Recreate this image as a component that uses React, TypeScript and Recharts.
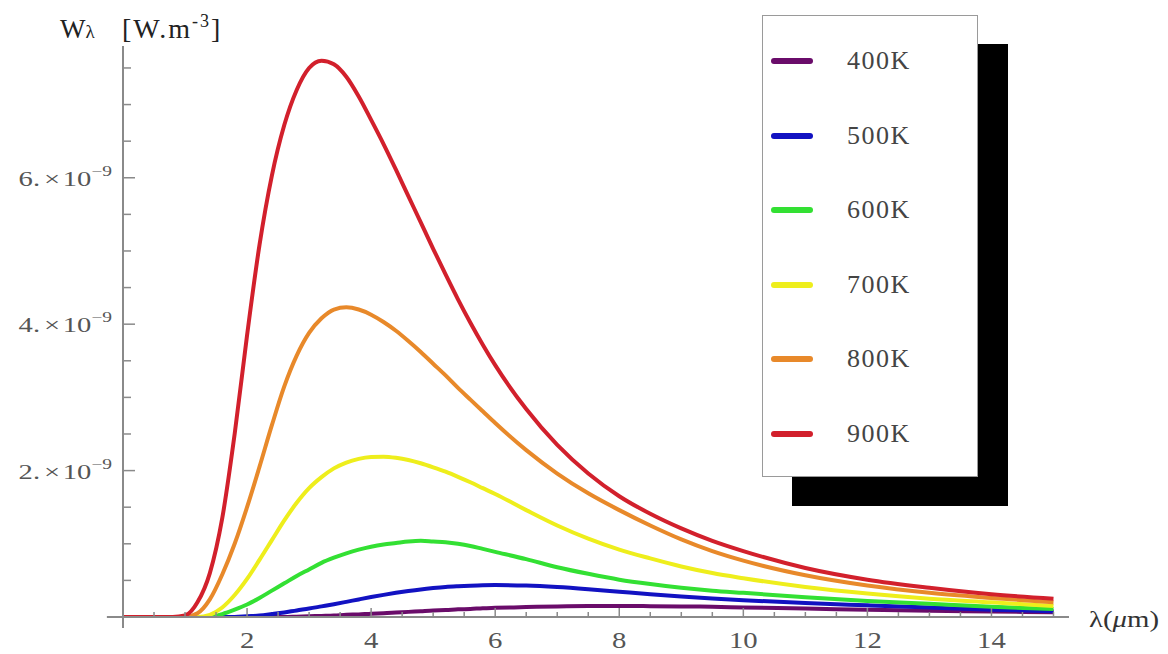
import React from 'react';
import { LineChart, Line, XAxis, YAxis, ReferenceLine } from 'recharts';

// wavelength in micrometres
const lambda = [0, 0.5, 0.8, 1.0, 1.2, 1.4, 1.6, 1.8, 2.0, 2.2, 2.4, 2.6, 2.8, 3.0, 3.2, 3.4, 3.6, 3.8, 4.0, 4.2, 4.4, 4.6, 4.8, 5.0, 5.2, 5.4, 5.6, 5.8, 6.0, 6.5, 7, 7.5, 8, 8.5, 9, 9.5, 10, 11, 12, 13, 14, 15];

// spectral emittance, in units of 1e-9
const w400 = [0, 0, 0, 0, 0, 0, 0, 0, 0, 0, 0, 0, 0.005, 0.01, 0.015, 0.02, 0.03, 0.035, 0.045, 0.05, 0.06, 0.07, 0.08, 0.09, 0.095, 0.105, 0.11, 0.12, 0.125, 0.135, 0.145, 0.15, 0.15, 0.148, 0.145, 0.14, 0.13, 0.115, 0.1, 0.085, 0.075, 0.065];
const w500 = [0, 0, 0, 0, 0, 0, 0, 0, 0.01, 0.02, 0.04, 0.062, 0.09, 0.115, 0.145, 0.175, 0.207, 0.24, 0.272, 0.302, 0.33, 0.355, 0.377, 0.395, 0.41, 0.42, 0.428, 0.434, 0.436, 0.43, 0.41, 0.38, 0.345, 0.31, 0.28, 0.253, 0.23, 0.19, 0.16, 0.13, 0.1, 0.08];
const w600 = [0, 0, 0, 0, 0, 0, 0.04, 0.1, 0.17, 0.26, 0.36, 0.46, 0.56, 0.65, 0.74, 0.81, 0.87, 0.92, 0.96, 0.99, 1.01, 1.03, 1.04, 1.03, 1.02, 1.0, 0.97, 0.93, 0.89, 0.79, 0.68, 0.59, 0.51, 0.45, 0.4, 0.36, 0.33, 0.27, 0.22, 0.18, 0.14, 0.11];
const w700 = [0, 0, 0, 0, 0, 0.03, 0.13, 0.3, 0.52, 0.78, 1.05, 1.32, 1.56, 1.76, 1.91, 2.03, 2.11, 2.16, 2.185, 2.19, 2.175, 2.145, 2.1, 2.045, 1.985, 1.915, 1.84, 1.76, 1.68, 1.46, 1.25, 1.07, 0.92, 0.8, 0.69, 0.6, 0.53, 0.41, 0.32, 0.25, 0.2, 0.15];
const w800 = [0, 0, 0, 0, 0.05, 0.24, 0.58, 1.0, 1.5, 2.05, 2.62, 3.15, 3.57, 3.88, 4.08, 4.2, 4.23, 4.2, 4.13, 4.03, 3.91, 3.77, 3.62, 3.46, 3.3, 3.13, 2.97, 2.81, 2.65, 2.28, 1.96, 1.69, 1.46, 1.25, 1.06, 0.9, 0.77, 0.57, 0.43, 0.33, 0.26, 0.2];
const w900 = [0, 0, 0, 0.02, 0.2, 0.6, 1.35, 2.5, 3.85, 5.08, 6.03, 6.72, 7.2, 7.5, 7.6, 7.55, 7.38, 7.11, 6.79, 6.46, 6.11, 5.75, 5.39, 5.03, 4.68, 4.34, 4.02, 3.72, 3.44, 2.84, 2.35, 1.96, 1.65, 1.41, 1.21, 1.04, 0.9, 0.67, 0.51, 0.4, 0.31, 0.25];

const xTicks = [0.5, 1, 1.5, 2, 2.5, 3, 3.5, 4, 4.5, 5, 5.5, 6, 6.5, 7, 7.5, 8, 8.5, 9, 9.5, 10, 10.5, 11, 11.5, 12, 12.5, 13, 13.5, 14, 14.5, 15];
const yTicks = [0.5, 1, 1.5, 2, 2.5, 3, 3.5, 4, 4.5, 5, 5.5, 6, 6.5, 7, 7.5];
const xLabels = [2, 4, 6, 8, 10, 12, 14];
const yLabels = [2, 4, 6];

const series = [
  { key: 'w400', name: '400K', color: '#6a0c6a', values: w400 },
  { key: 'w500', name: '500K', color: '#1212c2', values: w500 },
  { key: 'w600', name: '600K', color: '#33e033', values: w600 },
  { key: 'w700', name: '700K', color: '#eeee1c', values: w700 },
  { key: 'w800', name: '800K', color: '#e8892a', values: w800 },
  { key: 'w900', name: '900K', color: '#d2202c', values: w900 },
];

const data = lambda.map((x, i) => {
  const row: any = { x };
  series.forEach((s) => (row[s.key] = s.values[i]));
  return row;
});

const FONT = '"Liberation Serif", "Times New Roman", serif';
const AXIS = '#8a8a8a';

const XTick = (props: any) => {
  const { x, y, payload } = props;
  const v = payload.value;
  const major = xLabels.includes(v);
  return (
    <g>
      <line x1={x} x2={x} y1={y} y2={y - (major ? 9 : 5)} stroke={AXIS} strokeWidth={1.5} />
      {major && (
        <g transform={`translate(${x},${y + 31}) scale(1.25,1)`}>
          <text x={0} y={0} textAnchor="middle" fontSize={23} fill="#555" fontFamily={FONT}>
            {v}
          </text>
        </g>
      )}
    </g>
  );
};

const YTick = (props: any) => {
  const { x, y, payload } = props;
  const v = payload.value;
  const major = yLabels.includes(v);
  return (
    <g>
      <line x1={x} x2={x + (major ? 12 : 8)} y1={y} y2={y} stroke={AXIS} strokeWidth={1.5} />
      {major && (
        <g transform={`translate(${x - 11},${y + 8}) scale(1.3,1)`}>
          <text x={0} y={0} textAnchor="end" fontSize={22} fill="#555" fontFamily={FONT}>
            {`${v}.`}
            <tspan dx={3}>×</tspan>
            <tspan dx={2}>10</tspan>
            <tspan dy={-10} fontSize={15}>−9</tspan>
          </text>
        </g>
      )}
    </g>
  );
};

export default function App() {
  return (
    <div style={{ position: 'absolute', left: 0, top: 0, width: 1168, height: 654, background: '#fff' }}>
      <LineChart
        width={1168}
        height={654}
        data={data}
        margin={{ top: 46, right: 99, left: 63, bottom: 7 }}
      >
        <XAxis
          type="number"
          dataKey="x"
          domain={[0, 15.25]}
          ticks={xTicks}
          tick={<XTick />}
          tickLine={false}
          tickSize={0}
          tickMargin={0}
          interval={0}
          height={30}
          axisLine={{ stroke: AXIS, strokeWidth: 2 }}
          allowDataOverflow
        />
        <YAxis
          type="number"
          domain={[0, 7.8]}
          ticks={yTicks}
          tick={<YTick />}
          tickLine={false}
          tickSize={0}
          tickMargin={0}
          interval={0}
          width={60}
          axisLine={{ stroke: AXIS, strokeWidth: 2 }}
          allowDataOverflow
        />
        <ReferenceLine
          segment={[{ x: -0.26, y: 0 }, { x: 0, y: 0 }]}
          stroke={AXIS}
          strokeWidth={2}
          ifOverflow="visible"
        />
        <ReferenceLine
          segment={[{ x: 0, y: -0.15 }, { x: 0, y: 0 }]}
          stroke={AXIS}
          strokeWidth={2}
          ifOverflow="visible"
        />
        {series.map((s) => (
          <Line
            key={s.key}
            type="monotone"
            dataKey={s.key}
            name={s.name}
            stroke={s.color}
            strokeWidth={4}
            dot={false}
            isAnimationActive={false}
          />
        ))}
      </LineChart>

      {/* axis titles */}
      <svg width={1168} height={654} style={{ position: 'absolute', left: 0, top: 0, pointerEvents: 'none' }}>
        <text x={60} y={38} fontSize={27} fill="#222" fontFamily={FONT}>
          W<tspan fontSize={19}>λ</tspan>
        </text>
        <text x={122} y={38} fontSize={28} fill="#222" fontFamily={FONT} letterSpacing={2}>
          [W.m<tspan dy={-11} fontSize={18}>-3</tspan>
          <tspan dy={11}>]</tspan>
        </text>
        <g transform="translate(1089,627) scale(1.2,1)">
          <text x={0} y={0} fontSize={24} fill="#333" fontFamily={FONT}>
            λ(<tspan fontStyle="italic">μ</tspan>m)
          </text>
        </g>
      </svg>

      {/* legend */}
      <div
        style={{
          position: 'absolute',
          left: 762,
          top: 15,
          width: 214,
          height: 460,
          background: '#fff',
          border: '1.5px solid #9a9a9a',
          boxShadow: '30px 29px 0 0 #000',
          fontFamily: FONT,
        }}
      >
        {series.map((s, i) => (
          <div
            key={s.key}
            style={{ position: 'absolute', left: 0, top: 45 + i * 74.6 - 15, height: 30, width: 214 }}
          >
            <div
              style={{
                position: 'absolute',
                left: 8,
                top: 12,
                width: 42,
                height: 6,
                borderRadius: 3,
                background: s.color,
              }}
            />
            <div
              style={{
                position: 'absolute',
                left: 84,
                top: 0,
                lineHeight: '30px',
                fontSize: 26,
                letterSpacing: 1.5,
                color: '#444',
              }}
            >
              {s.name}
            </div>
          </div>
        ))}
      </div>
    </div>
  );
}
